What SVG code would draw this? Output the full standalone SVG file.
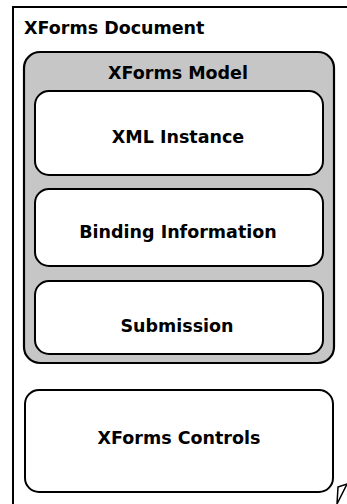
<svg xmlns="http://www.w3.org/2000/svg" width="347" height="504" viewBox="0 0 347 504">
<style>
.t{font-family:"DejaVu Sans",Verdana,sans-serif;font-weight:bold;fill:#000;font-size:17.5px;}
.box{fill:#fff;stroke:#000;stroke-width:2;}
.model{fill:#c6c6c6;stroke:#000;stroke-width:2.2;}
</style>
<rect width="347" height="504" fill="#fff"/>
<g id="document">
<path d="M13,504 V7 H347" fill="none" stroke="#000" stroke-width="2"/>
<text class="t" x="24" y="34" font-size="18.5">XForms Document</text>
</g>
<g id="model">
<rect class="model" x="24" y="52" width="310" height="311" rx="16"/>
<text class="t" x="178" y="79" text-anchor="middle">XForms Model</text>
</g>
<g id="xml-instance">
<rect class="box" x="35" y="91" width="288" height="84" rx="14"/>
<text class="t" x="178" y="143" text-anchor="middle">XML Instance</text>
</g>
<g id="binding">
<rect class="box" x="35" y="189" width="288" height="77" rx="14"/>
<text class="t" x="178" y="238" text-anchor="middle">Binding Information</text>
</g>
<g id="submission">
<rect class="box" x="35" y="281" width="288" height="73" rx="14"/>
<text class="t" x="177" y="332" text-anchor="middle">Submission</text>
</g>
<g id="controls">
<rect class="box" x="25" y="390" width="308" height="102" rx="14"/>
<text class="t" x="179" y="444" text-anchor="middle">XForms Controls</text>
</g>
<g id="connectors">
<path d="M338,487 L347,484 L337,504 Z" fill="#fff" stroke="#000" stroke-width="1.5"/>
</g>
</svg>
